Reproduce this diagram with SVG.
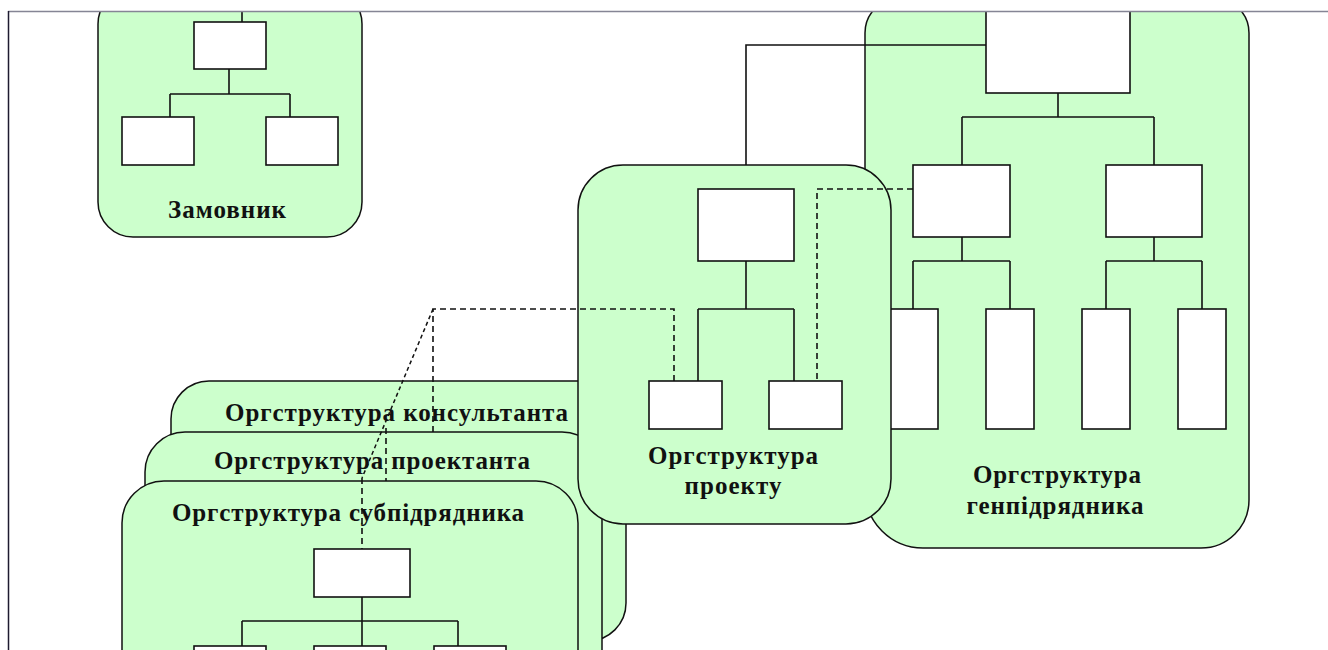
<svg xmlns="http://www.w3.org/2000/svg" width="1328" height="650" viewBox="0 0 1328 650">
  <style>
    .cont { fill: #CCFFCC; stroke: #111111; stroke-width: 1.5; }
    .box { fill: #FFFFFF; stroke: #111111; stroke-width: 1.6; }
    .ln { fill: none; stroke: #111111; stroke-width: 1.6; }
    .dash { fill: none; stroke: #111111; stroke-width: 1.6; stroke-dasharray: 6 4; }
    .dot { fill: none; stroke: #111111; stroke-width: 1.5; stroke-dasharray: 4 3; }
    .lbl { font-family: "Liberation Serif", "Times New Roman", serif; font-weight: bold; font-size: 25px; fill: #111111; }
  </style>
  <defs>
    <clipPath id="frame">
      <rect x="9" y="12" width="1319" height="638"/>
    </clipPath>
  </defs>
  <rect x="0" y="0" width="1328" height="650" fill="#FFFFFF"/>
  <g clip-path="url(#frame)">
    <g id="genpidriadnyk">
      <path class="cont" d="M865,33 A35,35 0 0 1 900,-2 H1214 A35,35 0 0 1 1249,33 V500 A48,48 0 0 1 1201,548 H923 A58,58 0 0 1 865,490 Z"/>
      <rect class="box" x="986" y="-5" width="144" height="98"/>
      <path class="ln" d="M1058,93 V117 M962,117 H1154 M962,117 V165 M1154,117 V165"/>
      <rect class="box" x="913" y="165" width="97" height="72"/>
      <rect class="box" x="1106" y="165" width="96" height="72"/>
      <path class="ln" d="M962,237 V261 M913,261 H1010 M913,261 V309 M1010,261 V309 M1154,237 V261 M1106,261 H1202 M1106,261 V309 M1202,261 V309"/>
      <rect class="box" x="890" y="309" width="48" height="120"/>
      <rect class="box" x="986" y="309" width="48" height="120"/>
      <rect class="box" x="1082" y="309" width="48" height="120"/>
      <rect class="box" x="1178" y="309" width="48" height="120"/>
      <text class="lbl" x="1057" y="483" text-anchor="middle" textLength="168">Оргструктура</text>
      <text class="lbl" x="1055" y="514" text-anchor="middle" textLength="177">генпідрядника</text>
    </g>
    <g id="zamovnyk">
      <rect class="cont" x="98" y="-11" width="264" height="248" rx="35"/>
      <rect class="box" x="194" y="22" width="72" height="47"/>
      <rect class="box" x="122" y="117" width="72" height="48"/>
      <rect class="box" x="266" y="117" width="72" height="48"/>
      <path class="ln" d="M242,12 V22 M229,69 V94 M170,94 H290 M170,94 V117 M290,94 V117"/>
      <text class="lbl" x="227" y="218" text-anchor="middle" textLength="118">Замовник</text>
    </g>
    <g id="konsultant">
      <rect class="cont" x="171" y="381" width="455" height="260" rx="38"/>
      <text class="lbl" x="225" y="421" textLength="343">Оргструктура консультанта</text>
    </g>
    <g id="proektant">
      <rect class="cont" x="145" y="432" width="457" height="280" rx="40"/>
      <text class="lbl" x="214" y="469" textLength="316">Оргструктура проектанта</text>
    </g>
    <g id="subpidriadnyk">
      <rect class="cont" x="122" y="481" width="456" height="280" rx="42"/>
      <text class="lbl" x="172" y="521" textLength="352">Оргструктура субпідрядника</text>
      <rect class="box" x="314" y="549" width="96" height="48"/>
      <path class="ln" d="M362,597 V621 M242,621 H458 M242,621 V646 M362,621 V646 M458,621 V646"/>
      <rect class="box" x="194" y="646" width="72" height="30"/>
      <rect class="box" x="314" y="646" width="72" height="30"/>
      <rect class="box" x="434" y="646" width="72" height="30"/>
    </g>
    <g id="proekt">
      <rect class="cont" x="578" y="165" width="313" height="359" rx="45"/>
      <rect class="box" x="698" y="189" width="96" height="72"/>
      <path class="ln" d="M746,261 V309 M698,309 H794 M698,309 V381 M794,309 V381"/>
      <rect class="box" x="649" y="381" width="73" height="48"/>
      <rect class="box" x="769" y="381" width="73" height="48"/>
      <text class="lbl" x="733" y="464" text-anchor="middle" textLength="170">Оргструктура</text>
      <text class="lbl" x="733" y="494" text-anchor="middle" textLength="97">проекту</text>
    </g>
    <g id="connectors">
      <path class="ln" d="M986,45 H746 V165"/>
      <path class="dash" d="M913,189 H817 V381"/>
      <path class="dash" d="M674,381 V309 H433 V432"/>
      <path class="dot" d="M433,309 L362,478"/>
      <path class="dash" d="M362,478 V549"/>
      <path class="dash" d="M386,428 V481"/>
    </g>
  </g>
  <g id="frame-lines">
    <line x1="8" y1="11.5" x2="1328" y2="11.5" stroke="#858595" stroke-width="1.5"/>
    <line x1="8.5" y1="11" x2="8.5" y2="650" stroke="#1e1b30" stroke-width="1.5"/>
  </g>
</svg>
